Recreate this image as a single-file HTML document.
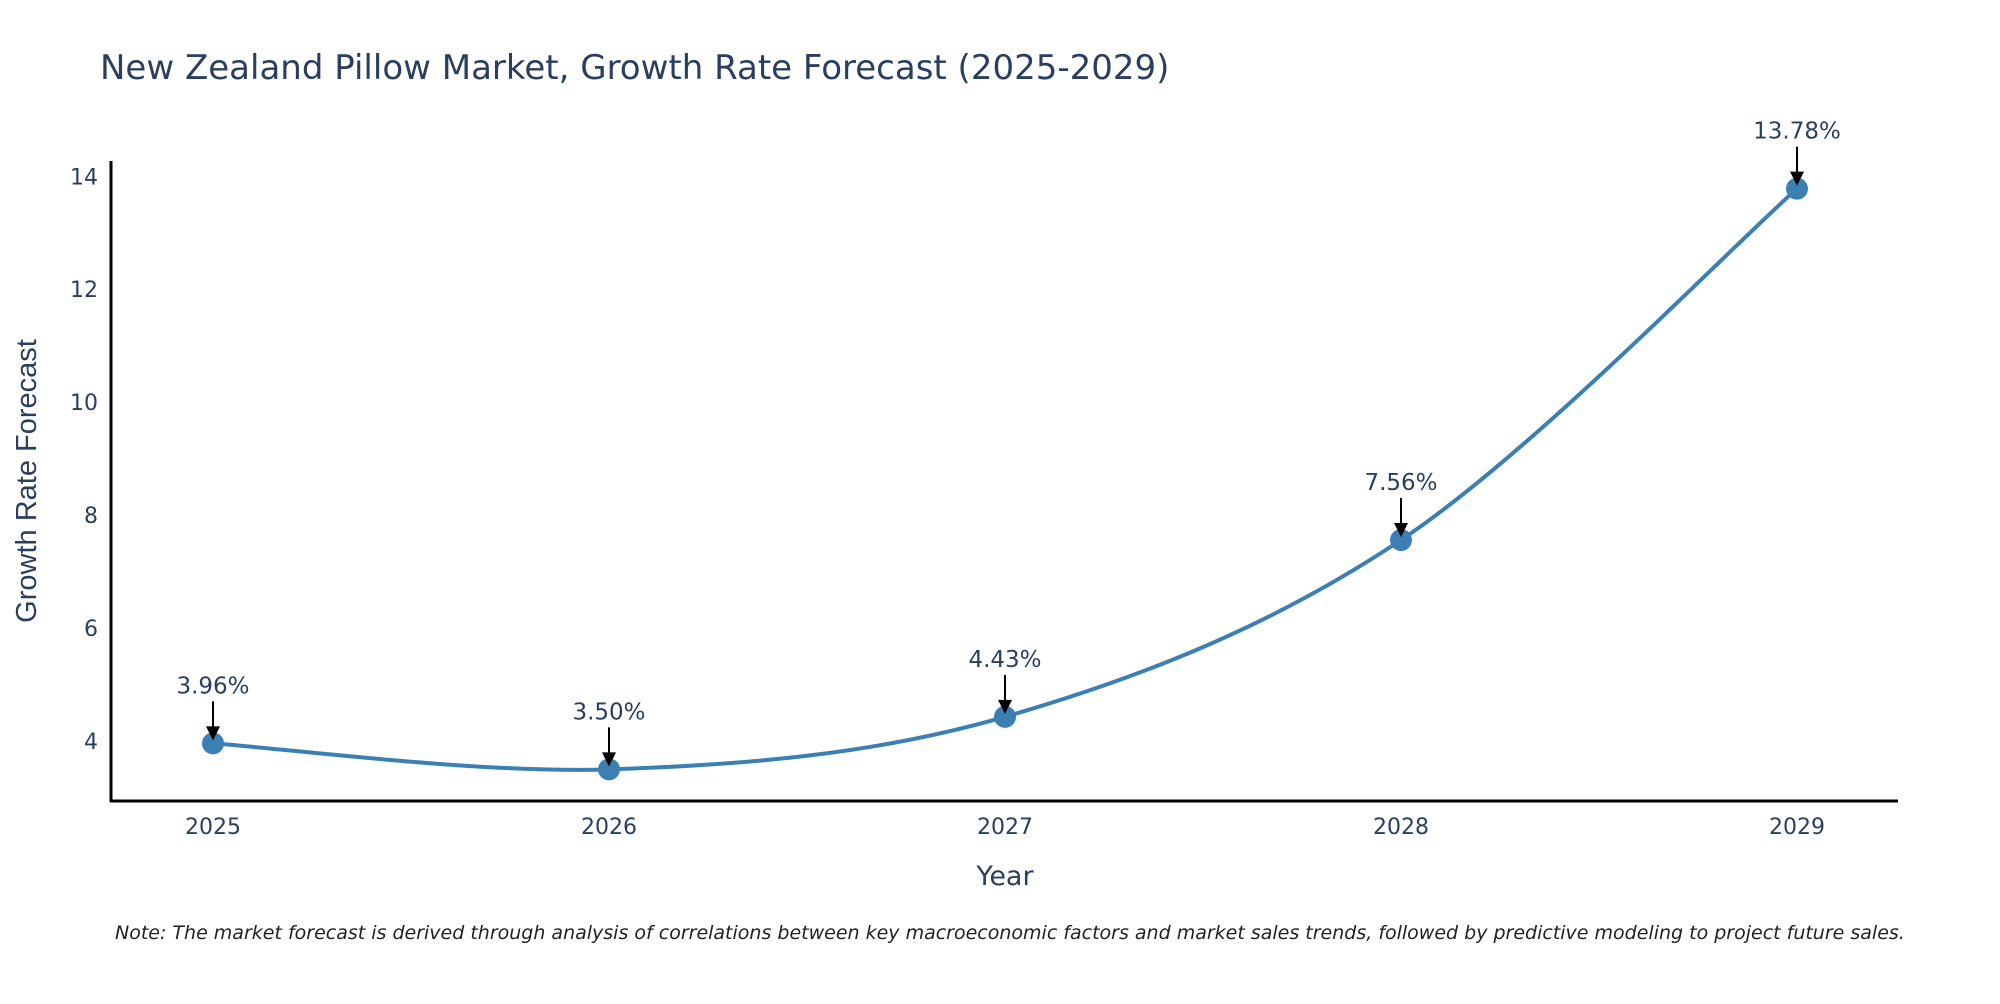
<!DOCTYPE html>
<html><head><meta charset="utf-8"><style>
body{margin:0;background:#fff;width:2000px;height:1000px;overflow:hidden;font-family:"DejaVu Sans","Liberation Sans",sans-serif}
</style></head><body>
<svg id="chart" width="2000" height="1000" xmlns="http://www.w3.org/2000/svg">
<text x="100" y="79" font-size="34" fill="#2a3f5f">New Zealand Pillow Market, Growth Rate Forecast (2025-2029)</text>
<g id="yticks"></g><g id="xticks"></g>
<line x1="111" y1="161" x2="111" y2="802" stroke="#000" stroke-width="3"/>
<line x1="110" y1="801" x2="1898" y2="801" stroke="#000" stroke-width="3"/>
<g id="series"></g>
<text x="1005" y="885" font-size="27" fill="#2a3f5f" text-anchor="middle">Year</text>
<text transform="translate(36,481) rotate(-90)" font-size="29" font-family="Liberation Sans, sans-serif" fill="#2a3f5f" text-anchor="middle">Growth Rate Forecast</text>
<text x="115" y="939" font-size="19" font-style="italic" fill="#222">Note: The market forecast is derived through analysis of correlations between key macroeconomic factors and market sales trends, followed by predictive modeling to project future sales.</text>
</svg>
<script>
const years=["2025","2026","2027","2028","2029"];
const rates=[3.96,3.50,4.43,7.56,13.78];
const labels=["3.96%","3.50%","4.43%","7.56%","13.78%"];
const yTicks=[4,6,8,10,12,14];
const NS="http://www.w3.org/2000/svg";
const yMin=2.94,yMax=14.27;
function sy(v){return 801-(v-yMin)/(yMax-yMin)*640;}
function sx(i){return 213+i*(1797-213)/(years.length-1);}
function mk(t,a,p){const e=document.createElementNS(NS,t);for(const k in a)e.setAttribute(k,a[k]);p.appendChild(e);return e;}
const yt=document.getElementById('yticks');
yTicks.forEach(v=>{const t=mk('text',{x:98,y:sy(v)+8,'font-size':22,fill:'#2a3f5f','text-anchor':'end'},yt);

t.textContent=v;});
const xt=document.getElementById('xticks');
years.forEach((y,i)=>{const t=mk('text',{x:sx(i),y:834,'font-size':22,fill:'#2a3f5f','text-anchor':'middle'},xt);

t.textContent=y;});
const g=document.getElementById('series');
const pts=rates.map((v,i)=>[sx(i),sy(v)]);
let d='M'+pts[0][0]+','+pts[0][1];
for(let i=0;i<pts.length-1;i++){const p0=pts[Math.max(0,i-1)],p1=pts[i],p2=pts[i+1],p3=pts[Math.min(pts.length-1,i+2)];
const c1=[p1[0]+(p2[0]-p0[0])/6,p1[1]+(p2[1]-p0[1])/6],c2=[p2[0]-(p3[0]-p1[0])/6,p2[1]-(p3[1]-p1[1])/6];
d+=' C'+c1+' '+c2+' '+p2;}
const path=mk('path',{d:d,fill:'none',stroke:'#3b7fb3','stroke-width':4},g);


pts.forEach((p,i)=>{
const c=mk('circle',{cx:p[0],cy:p[1],r:11,fill:'#3b7fb3'},g);


const l=mk('line',{x1:p[0],y1:p[1]-42,x2:p[0],y2:p[1]-16,stroke:'#000','stroke-width':2},g);


const a=mk('polygon',{points:(p[0]-7)+','+(p[1]-17)+' '+(p[0]+7)+','+(p[1]-17)+' '+p[0]+','+(p[1]-3),fill:'#000'},g);


const t=mk('text',{x:p[0],y:p[1]-50,'font-size':23,fill:'#2a3f5f','text-anchor':'middle'},g);

t.textContent=labels[i];
});
</script>
</body></html>
